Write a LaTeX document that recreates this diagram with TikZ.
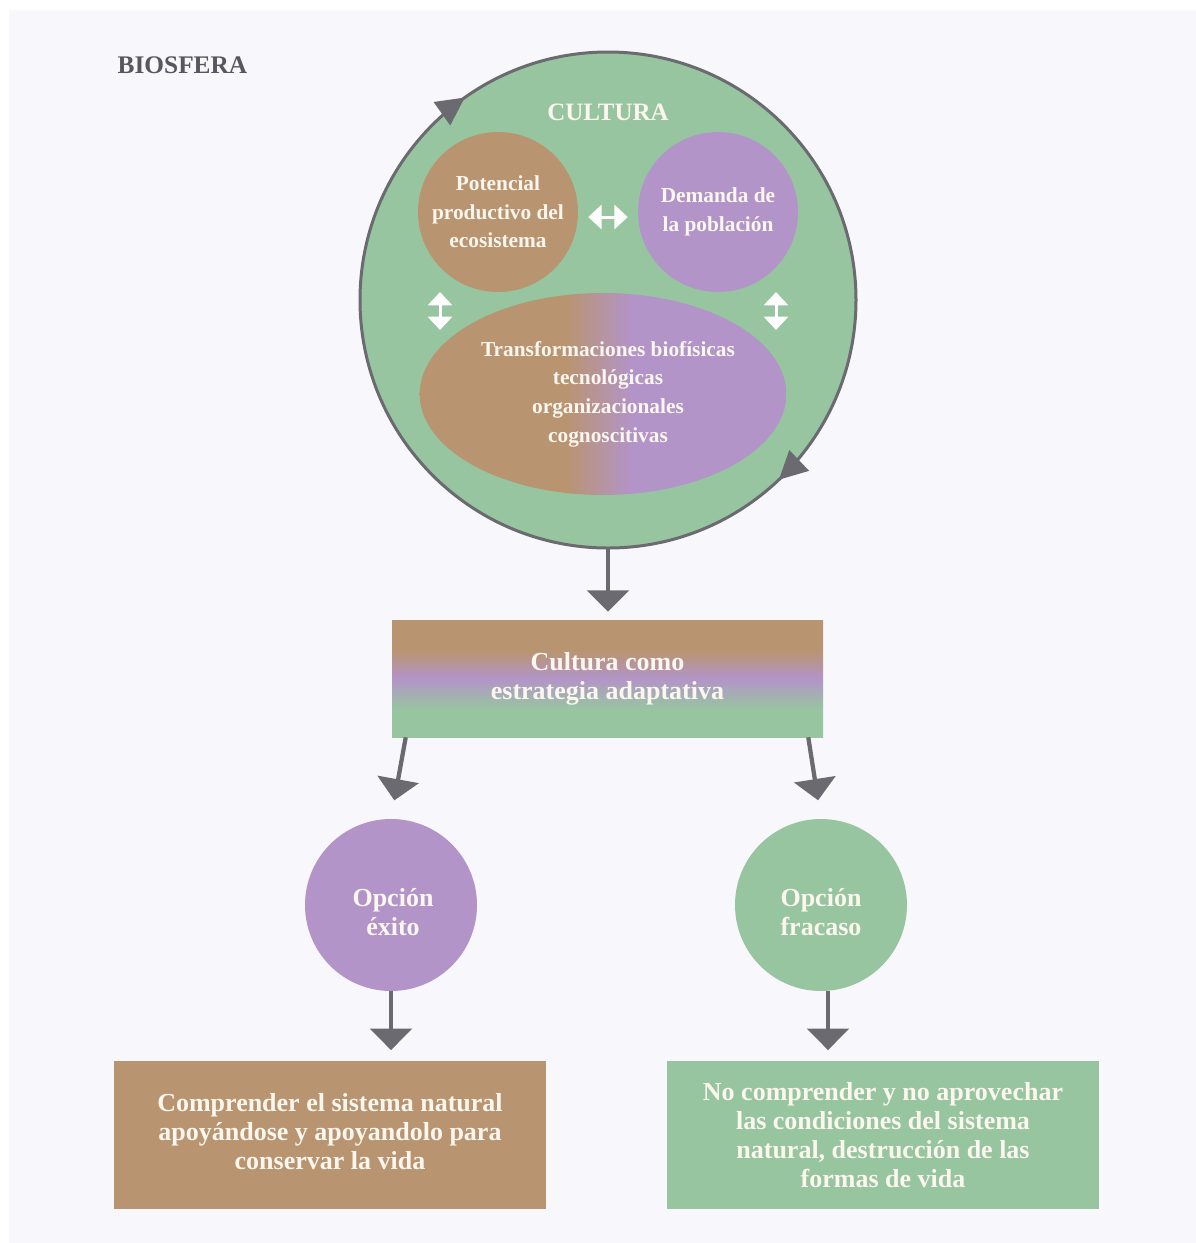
\documentclass[tikz,border=0pt]{standalone}
\usepackage{fontspec}
\setmainfont{Liberation Serif}
\usetikzlibrary{arrows.meta,shapes.geometric,calc,decorations.markings}

\definecolor{sage}{HTML}{97C5A0}
\definecolor{tanc}{HTML}{B99470}
\definecolor{lilac}{HTML}{B394C8}
\definecolor{greyc}{HTML}{6B6A70}
\definecolor{bgc}{HTML}{F8F7FC}
\definecolor{textc}{HTML}{FBF6EE}
\definecolor{biosc}{HTML}{58575C}

% brown-to-lilac blend across the transformations ellipse
\pgfdeclarehorizontalshading{ellshade}{100bp}{color(0bp)=(tanc); color(45bp)=(tanc); color(54bp)=(lilac); color(100bp)=(lilac)}
% green (bottom) -> lilac -> brown (top) band for the strategy box
\pgfdeclareverticalshading{stratshade}{100bp}{color(0bp)=(sage); color(37bp)=(sage); color(50bp)=(lilac); color(62bp)=(tanc); color(100bp)=(tanc)}

\begin{document}
\begin{tikzpicture}[x=0.75pt,y=-0.75pt,
  lbl/.style={font=\bfseries\fontsize{19.5}{21.75}\selectfont, text=textc, align=center},
  small/.style={font=\bfseries\fontsize{16}{21.5}\selectfont, text=textc, align=center},
  conn/.style={draw=greyc, line width=3.2pt, -{Triangle[width=31pt,length=16pt]}},
  dbl/.style={draw=white, line width=2.25pt, {Triangle[width=18pt,length=10pt]}-{Triangle[width=18pt,length=10pt]}},
  ring/.style={draw=greyc, line width=2.25pt, postaction=decorate,
    decoration={markings,
      mark=at position 0.348 with {\arrowreversed{Triangle[width=21pt,length=21pt]}},
      mark=at position 0.871 with {\arrowreversed{Triangle[width=21pt,length=21pt]}}}},
  disc/.style={circle, inner sep=0pt},
  boxc/.style={rectangle, inner sep=0pt, minimum width=324pt, minimum height=111pt}
]
% canvas
\useasboundingbox (0,0) rectangle (1196,1243);
\fill[white] (0,0) rectangle (1196,1243);
\fill[bgc] (9,10) rectangle (1196,1243);

\node[font=\bfseries\fontsize{19}{20}\selectfont, text=biosc, anchor=west] (bios) at (113,65) {BIOSFERA};

% culture sphere
\node[disc, fill=sage, minimum size=372pt] (cultura) at (608,300) {};
\draw[ring] (cultura.center) circle[radius=186pt];
\node[font=\bfseries\fontsize{18.75}{20}\selectfont, text=textc] (cultt) at (608,112) {CULTURA};

\node[disc, fill=tanc, minimum size=120pt, small] (pot) at (498,212) {Potencial\\productivo del\\ecosistema};
\node[disc, fill=lilac, minimum size=120pt, small] (dem) at (718,212) {Demanda de\\la población};
\node[ellipse, shade, shading=ellshade, minimum width=275pt, minimum height=151.5pt, inner sep=0pt,
  label={[small, xshift=3.75pt]center:{Transformaciones biofísicas\\tecnológicas\\organizacionales\\cognoscitivas}}] (trans) at (603,394) {};

% interactions inside the sphere
\draw[dbl, shorten <=7.5pt, shorten >=7.5pt] ([yshift=-3.75pt]pot.east) -- ([yshift=-3.75pt]dem.west);
\coordinate (va1) at (440,292);
\coordinate (va2) at (440,330);
\coordinate (vb1) at (776,292);
\coordinate (vb2) at (776,330);
\draw[dbl] (va1) -- (va2);
\draw[dbl] (vb1) -- (vb2);

% strategy box
\node[rectangle, shade, shading=stratshade, minimum width=323.25pt, minimum height=87.75pt, inner sep=0pt, lbl] (strat) at (607.5,678.5) {Cultura como\\estrategia adaptativa};

\node[disc, fill=lilac, minimum size=129pt, label={[lbl, yshift=-5.25pt, xshift=1.5pt]center:{Opción\\éxito}}] (exito) at (391,905) {};
\node[disc, fill=sage, minimum size=129pt, label={[lbl, yshift=-5.25pt]center:{Opción\\fracaso}}] (fracaso) at (821,905) {};

\node[boxc, fill=tanc, label={[lbl, yshift=2.25pt]center:{Comprender el sistema natural\\apoyándose y apoyandolo para\\conservar la vida}}] (okbox) at (330,1135) {};
\node[boxc, fill=sage, lbl] (failbox) at (883,1135) {No comprender y no aprovechar\\las condiciones del sistema\\natural, destrucción de las\\formas de vida};

% flow
\draw[conn, shorten >=6pt] (cultura.south) -- (cultura.south |- strat.north);
\draw[conn, shorten >=14pt] ($(strat.south west)+(14,0)$) -- (exito.north);
\draw[conn, shorten >=14pt] ($(strat.south east)+(-15,0)$) -- (fracaso.north);
\draw[conn, shorten >=8pt] (exito.south) -- (exito.south |- okbox.north);
\draw[conn, shorten >=8pt] ($(fracaso.south)+(7,0)$) -- ($(fracaso.south |- failbox.north)+(7,0)$);
\end{tikzpicture}
\end{document}
